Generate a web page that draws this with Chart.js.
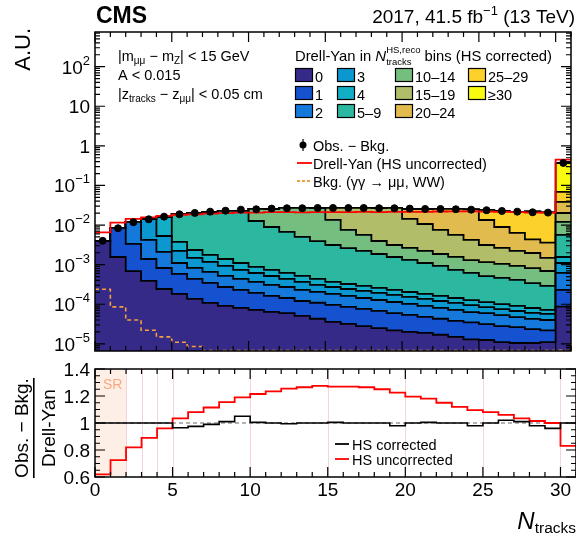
<!DOCTYPE html>
<html>
<head>
<meta charset="utf-8">
<script src="https://cdn.jsdelivr.net/npm/chart.js@4.4.0/dist/chart.umd.min.js"></script>
<style>
  html, body { margin: 0; padding: 0; background: #fff; }
  #wrap { position: relative; width: 576px; height: 537px; }
  #wrap canvas { position: absolute; left: 0; top: 0; }
</style>
</head>
<body>
<div id="wrap">
  <canvas id="main-chart" width="576" height="537"></canvas>
  <canvas id="ratio-chart" width="576" height="537"></canvas>
</div>
<script>
// DATA (bin i covers N_tracks in [i, i+1), last bin is the >=30 overflow)

const nTracksBins = [0, 1, 2, 3, 4, 5, 6, 7, 8, 9, 10, 11, 12, 13, 14, 15, 16, 17, 18, 19, 20, 21, 22, 23, 24, 25, 26, 27, 28, 29, 30];

// Drell-Yan split in N_tracks^HS,reco (HS corrected), arbitrary units
const dyHs0 = [3.96e-3, 1.56e-3, 6.9e-4, 3.9e-4, 2.43e-4, 1.82e-4, 1.36e-4, 1.08e-4, 9.1e-5, 8.1e-5, 7.2e-5, 6.4e-5, 6.0e-5, 5.1e-5, 4.3e-5, 3.6e-5, 3.2e-5, 2.8e-5, 2.5e-5, 2.2e-5, 2.0e-5, 1.9e-5, 1.7e-5, 1.5e-5, 1.3e-5, 1.25e-5, 1.1e-5, 1.05e-5, 1.05e-5, 1.1e-5, 8.7e-5];
const dyHs1 = [0, 6.9e-3, 2.64e-3, 1.0e-3, 5.8e-4, 4.0e-4, 3.0e-4, 2.37e-4, 1.82e-4, 1.49e-4, 1.21e-4, 9.8e-5, 8.4e-5, 7.0e-5, 6.6e-5, 6.0e-5, 5.4e-5, 4.8e-5, 4.3e-5, 3.8e-5, 3.4e-5, 2.9e-5, 2.6e-5, 2.3e-5, 2.2e-5, 1.9e-5, 1.7e-5, 1.6e-5, 1.3e-5, 1.1e-5, 1.43e-4];
const dyHs2 = [0, 0, 8.65e-3, 2.82e-3, 1.27e-3, 5.2e-4, 3.9e-4, 3.1e-4, 2.45e-4, 2.05e-4, 1.73e-4, 1.45e-4, 1.29e-4, 1.09e-4, 9.6e-5, 8.6e-5, 7.6e-5, 6.8e-5, 6.0e-5, 5.4e-5, 4.8e-5, 4.3e-5, 3.8e-5, 3.4e-5, 2.8e-5, 2.85e-5, 2.5e-5, 2.1e-5, 1.9e-5, 1.8e-5, 3.9e-4];
const dyHs3 = [0, 0, 0, 1.0e-2, 3.2e-3, 1.12e-3, 6.5e-4, 5.2e-4, 4.1e-4, 3.0e-4, 2.5e-4, 2.1e-4, 1.62e-4, 1.36e-4, 1.03e-4, 9.1e-5, 8.1e-5, 7.3e-5, 6.5e-5, 5.8e-5, 5.1e-5, 4.5e-5, 4.0e-5, 3.6e-5, 3.2e-5, 2.5e-5, 2.2e-5, 2.0e-5, 1.8e-5, 1.7e-5, 4.8e-4];
const dyHs4 = [0, 0, 0, 0, 1.07e-2, 1.52e-3, 8.7e-4, 5.9e-4, 4.6e-4, 3.65e-4, 2.6e-4, 2.2e-4, 1.82e-4, 1.52e-4, 1.28e-4, 9.3e-5, 8.2e-5, 7.3e-5, 6.5e-5, 5.8e-5, 5.1e-5, 4.6e-5, 4.1e-5, 3.6e-5, 3.2e-5, 2.85e-5, 2.6e-5, 2.3e-5, 2.0e-5, 1.5e-5, 4.6e-4];
const dyHs5to9 = [0, 0, 0, 0, 0, 1.53e-2, 1.79e-2, 1.96e-2, 2.13e-2, 2.16e-2, 1.18e-2, 8.2e-3, 6.1e-3, 4.5e-3, 3.5e-3, 2.77e-3, 2.3e-3, 1.93e-3, 1.6e-3, 1.33e-3, 1.11e-3, 9.2e-4, 7.65e-4, 5.9e-4, 4.9e-4, 4.0e-4, 3.6e-4, 3.2e-4, 2.6e-4, 2.2e-4, 4.06e-3];
const dyHs10to14 = [0, 0, 0, 0, 0, 0, 0, 0, 0, 0, 1.28e-2, 1.65e-2, 2.03e-2, 2.2e-2, 2.3e-2, 1.03e-2, 4.9e-3, 3.4e-3, 2.1e-3, 1.58e-3, 1.33e-3, 1.12e-3, 9.3e-4, 8.3e-4, 6.9e-4, 6.5e-4, 5.8e-4, 5.2e-4, 4.8e-4, 4.0e-4, 6.36e-3];
const dyHs15to19 = [0, 0, 0, 0, 0, 0, 0, 0, 0, 0, 0, 0, 0, 0, 0, 1.36e-2, 1.95e-2, 2.14e-2, 2.3e-2, 2.39e-2, 1.16e-2, 8.4e-3, 5.66e-3, 4.06e-3, 2.9e-3, 1.97e-3, 1.6e-3, 1.3e-3, 1.15e-3, 7.9e-4, 8.2e-3];
const dyHs20to24 = [0, 0, 0, 0, 0, 0, 0, 0, 0, 0, 0, 0, 0, 0, 0, 0, 0, 0, 0, 0, 1.12e-2, 1.48e-2, 1.8e-2, 1.99e-2, 2.08e-2, 1.03e-2, 6.3e-3, 4.1e-3, 2.4e-3, 2.1e-3, 1.81e-2];
const dyHs25to29 = [0, 0, 0, 0, 0, 0, 0, 0, 0, 0, 0, 0, 0, 0, 0, 0, 0, 0, 0, 0, 0, 0, 0, 0, 0, 1.06e-2, 1.37e-2, 1.51e-2, 1.77e-2, 1.72e-2, 3.06e-2];
const dyHs30plus = [0, 0, 0, 0, 0, 0, 0, 0, 0, 0, 0, 0, 0, 0, 0, 0, 0, 0, 0, 0, 0, 0, 0, 0, 0, 0, 0, 0, 0, 0, 0.30];

const obsMinusBkg = [0.0040, 0.0083, 0.0118, 0.0140, 0.0163, 0.0187, 0.0202, 0.0218, 0.0231, 0.0245, 0.0251, 0.0260, 0.0266, 0.0266, 0.0270, 0.0270, 0.0270, 0.0270, 0.0266, 0.0266, 0.0260, 0.0255, 0.0255, 0.0251, 0.0245, 0.0237, 0.0227, 0.0218, 0.0210, 0.0206, 0.37];
const dyUncorrected = [0.0065, 0.0115, 0.0144, 0.0157, 0.0170, 0.0182, 0.0187, 0.0195, 0.0201, 0.0206, 0.0207, 0.0211, 0.0213, 0.0210, 0.0212, 0.0213, 0.0213, 0.0214, 0.0213, 0.0216, 0.0216, 0.0216, 0.0220, 0.0222, 0.0222, 0.0219, 0.0214, 0.0211, 0.0207, 0.0206, 0.45];
const bkgGammaGammaWW = [2.4e-4, 8.6e-5, 4.0e-5, 2.2e-5, 1.5e-5, 1.1e-5, 8.6e-6, 6.8e-6, 6.8e-6, 6.8e-6, 6.8e-6, 6.8e-6, 6.8e-6, 6.8e-6, 6.8e-6, 6.8e-6, 6.8e-6, 6.8e-6, 6.8e-6, 6.8e-6, 6.8e-6, 6.8e-6, 6.8e-6, 6.8e-6, 6.8e-6, 6.8e-6, 6.8e-6, 6.8e-6, 6.8e-6, 6.8e-6, 6.9e-6];

// Ratio panel: (Obs. - Bkg.) / Drell-Yan
const ratioHsCorrected = [1, 1, 1, 1, 1, 0.965, 0.975, 0.99, 1.01, 1.05, 1.005, 1.0, 0.995, 1.0, 1.0, 1.005, 1.0, 1.0, 1.0, 0.98, 1.0, 1.005, 1.0, 1.0, 0.98, 1.0, 1.02, 1.01, 0.98, 0.96, 1.0];
const ratioHsUncorrected = [0.62, 0.725, 0.82, 0.89, 0.96, 1.035, 1.08, 1.115, 1.155, 1.19, 1.215, 1.235, 1.255, 1.265, 1.275, 1.27, 1.27, 1.265, 1.25, 1.225, 1.195, 1.18, 1.15, 1.12, 1.095, 1.08, 1.06, 1.035, 1.015, 1.0, 0.83];

const componentLabels = ['0', '1', '2', '3', '4', '5–9', '10–14', '15–19', '20–24', '25–29', '≥30'];
const logTickLabels = [[2, '10', '2'], [1, '10', ''], [0, '1', ''], [-1, '10', '−1'], [-2, '10', '−2'], [-3, '10', '−3'], [-4, '10', '−4'], [-5, '10', '−5']];
const ratioTickLabels = [0.6, 0.8, 1, 1.2, 1.4];
const xTickLabels = [0, 5, 10, 15, 20, 25, 30];
const srLines = [2, 3, 4, 5, 10, 15, 20, 25, 30];

// STYLE

const componentColors = ['#352a87', '#1552d0', '#1479da', '#0b97d0', '#12aec6', '#2cb8a0', '#74bf80', '#b1bd69', '#e2bb4e', '#fcd12b', '#f8fa0f'];
const FONT = '"Liberation Sans", Arial, Helvetica, sans-serif';

const components = [dyHs0, dyHs1, dyHs2, dyHs3, dyHs4, dyHs5to9, dyHs10to14, dyHs15to19, dyHs20to24, dyHs25to29, dyHs30plus];

// running sum so every layer sits on the one below
const stackTops = [];
components.forEach((comp, k) => {
  stackTops.push(comp.map((v, i) => (k === 0 ? v : stackTops[k - 1][i] + v)));
});

// histogram as a step line: one point per left bin edge, plus the closing right edge
const stepPoints = (vals) =>
  vals.map((v, i) => ({ x: nTracksBins[i], y: v })).concat([{ x: nTracksBins[vals.length - 1] + 1, y: vals[vals.length - 1] }]);

const centerPoints = (vals) => vals.map((v, i) => ({ x: nTracksBins[i] + 0.5, y: v }));

// TEXT HELPERS

const fontOf = (p) => `${p.it ? 'italic ' : ''}${p.b ? 'bold ' : ''}${p.s}px ${FONT}`;

// parts: {t, s, dy, it, b, lower, lowerDy}
function drawRich(ctx, x, y, parts, align = 'left') {
  const widths = parts.map((p) => {
    ctx.font = fontOf(p);
    let w = ctx.measureText(p.t).width;
    if (p.lower) w = Math.max(w, ctx.measureText(p.lower).width);
    return w;
  });
  const total = widths.reduce((a, b) => a + b, 0);
  let cx = align === 'right' ? x - total : align === 'center' ? x - total / 2 : x;
  ctx.textAlign = 'left';
  ctx.textBaseline = 'alphabetic';
  parts.forEach((p, i) => {
    ctx.font = fontOf(p);
    ctx.fillStyle = p.c || '#000';
    ctx.fillText(p.t, cx, y + (p.dy || 0));
    if (p.lower) ctx.fillText(p.lower, cx, y + (p.lowerDy || 0));
    cx += widths[i];
  });
}

function drawTicksX(ctx, area, scale, lenMajor, lenMinor) {
  for (let v = 0; v <= 31; v++) {
    const px = scale.getPixelForValue(v);
    const len = v % 5 === 0 ? lenMajor : lenMinor;
    ctx.beginPath();
    ctx.moveTo(px, area.bottom);
    ctx.lineTo(px, area.bottom - len);
    ctx.moveTo(px, area.top);
    ctx.lineTo(px, area.top + len);
    ctx.stroke();
  }
}

function drawTickY(ctx, area, py, len) {
  ctx.beginPath();
  ctx.moveTo(area.left, py);
  ctx.lineTo(area.left + len, py);
  ctx.moveTo(area.right, py);
  ctx.lineTo(area.right - len, py);
  ctx.stroke();
}

// MAIN PANEL DECORATION

const mainFrame = {
  id: 'mainFrame',
  afterDraw(chart) {
    const { ctx, chartArea: area } = chart;
    const xs = chart.scales.x;
    const ys = chart.scales.y;
    ctx.save();
    ctx.strokeStyle = '#000';
    ctx.lineWidth = 1.5;
    ctx.strokeRect(area.left, area.top, area.right - area.left, area.bottom - area.top);
    ctx.lineWidth = 1.2;
    drawTicksX(ctx, area, xs, 10, 5);
    for (let d = -6; d <= 3; d++) {
      for (let m = 1; m <= 9; m++) {
        const v = m * Math.pow(10, d);
        if (v < ys.min || v > ys.max) continue;
        drawTickY(ctx, area, ys.getPixelForValue(v), m === 1 ? 10 : 5);
      }
    }

    // y tick labels
    logTickLabels.forEach(([exp, base, sup]) => {
      const py = ys.getPixelForValue(Math.pow(10, exp)) + 7;
      const parts = [{ t: base, s: 19 }];
      if (sup) parts.push({ t: sup, s: 13, dy: -9 });
      drawRich(ctx, 90, py, parts, 'right');
    });

    // header
    drawRich(ctx, 96, 23, [{ t: 'CMS', s: 23, b: true }]);
    drawRich(ctx, 575, 23, [
      { t: '2017, 41.5 fb', s: 19 },
      { t: '−1', s: 13, dy: -8 },
      { t: ' (13 TeV)', s: 19 },
    ], 'right');

    // y title
    ctx.save();
    ctx.translate(30, 28);
    ctx.rotate(-Math.PI / 2);
    drawRich(ctx, 0, 0, [{ t: 'A.U.', s: 22 }], 'right');
    ctx.restore();

    // selection text
    drawRich(ctx, 118, 61, [
      { t: '|m', s: 14.5 }, { t: 'μμ', s: 10, dy: 3 }, { t: ' − m', s: 14.5 }, { t: 'Z', s: 10, dy: 3 }, { t: '| < 15 GeV', s: 14.5 },
    ]);
    drawRich(ctx, 118, 80, [{ t: 'A < 0.015', s: 14.5 }]);
    drawRich(ctx, 118, 99, [
      { t: '|z', s: 14.5 }, { t: 'tracks', s: 10, dy: 3 }, { t: ' − z', s: 14.5 }, { t: 'μμ', s: 10, dy: 3 }, { t: '| < 0.05 cm', s: 14.5 },
    ]);

    // stack legend
    drawRich(ctx, 295, 61, [
      { t: 'Drell-Yan in ', s: 14.8 },
      { t: 'N', s: 15, it: true },
      { t: 'HS,reco', s: 9.5, dy: -8, lower: 'tracks', lowerDy: 4 },
      { t: ' bins (HS corrected)', s: 14.8 },
    ]);
    const colX = [295, 337, 395, 468];
    const rowY = [68, 86, 104];
    componentLabels.forEach((label, k) => {
      const col = Math.floor(k / 3);
      const row = k % 3;
      const bx = colX[col];
      const by = rowY[row];
      ctx.fillStyle = componentColors[k];
      ctx.fillRect(bx, by, 18, 14);
      ctx.strokeStyle = '#000';
      ctx.lineWidth = 1.2;
      ctx.strokeRect(bx + 0.5, by + 0.5, 17, 13);
      drawRich(ctx, bx + 20, by + 13.5, [{ t: label, s: 14.5 }]);
    });

    // marker legend
    ctx.fillStyle = '#000';
    ctx.strokeStyle = '#000';
    ctx.lineWidth = 1.2;
    ctx.beginPath();
    ctx.moveTo(303, 139);
    ctx.lineTo(303, 151);
    ctx.stroke();
    ctx.beginPath();
    ctx.arc(303, 145, 3.5, 0, Math.PI * 2);
    ctx.fill();
    drawRich(ctx, 313, 151, [{ t: 'Obs. − Bkg.', s: 14.5 }]);

    ctx.strokeStyle = '#ff0000';
    ctx.lineWidth = 1.8;
    ctx.beginPath();
    ctx.moveTo(297, 163);
    ctx.lineTo(312, 163);
    ctx.stroke();
    drawRich(ctx, 313, 169, [{ t: 'Drell-Yan (HS uncorrected)', s: 14.5 }]);

    ctx.strokeStyle = '#f4a040';
    ctx.setLineDash([3, 2]);
    ctx.beginPath();
    ctx.moveTo(297, 181);
    ctx.lineTo(312, 181);
    ctx.stroke();
    ctx.setLineDash([]);
    drawRich(ctx, 313, 187, [{ t: 'Bkg. (γγ → μμ, WW)', s: 14.5 }]);
    ctx.restore();
  },
};

// MAIN STACKED PLOT

const layerDatasets = stackTops.map((tops, k) => ({
  label: componentLabels[k],
  data: stepPoints(tops),
  stepped: 'before',
  borderColor: '#000',
  borderWidth: 1.8,
  backgroundColor: componentColors[k],
  fill: k === 0 ? 'start' : '-1',
  pointRadius: 0,
  order: 2,
}));

new Chart(document.getElementById('main-chart'), {
  type: 'line',
  data: {
    datasets: [
      ...layerDatasets,
      {
        label: 'Drell-Yan (HS uncorrected)',
        data: stepPoints(dyUncorrected),
        stepped: 'before',
        borderColor: '#ff0000',
        borderWidth: 1.8,
        fill: false,
        pointRadius: 0,
        order: 1,
      },
      {
        label: 'Bkg.',
        data: stepPoints(bkgGammaGammaWW),
        stepped: 'before',
        borderColor: '#f4a040',
        borderWidth: 1.6,
        borderDash: [4, 3],
        fill: false,
        pointRadius: 0,
        order: 1,
      },
      {
        label: 'Obs. - Bkg.',
        data: centerPoints(obsMinusBkg),
        showLine: false,
        pointRadius: 3.5,
        pointBackgroundColor: '#000',
        pointBorderColor: '#000',
        order: 0,
      },
    ],
  },
  options: {
    responsive: false,
    animation: false,
    layout: { padding: { left: 95, right: 0, top: 32, bottom: 186 } },
    plugins: { legend: { display: false }, tooltip: { enabled: false } },
    scales: {
      x: { type: 'linear', min: 0, max: 31, display: false },
      y: { type: 'logarithmic', min: 6.6e-6, max: 750, display: false },
    },
  },
  plugins: [mainFrame],
});

// RATIO PANEL DECORATION

const ratioFrame = {
  id: 'ratioFrame',
  beforeDatasetsDraw(chart) {
    const { ctx, chartArea: area } = chart;
    const xs = chart.scales.x;
    ctx.save();
    ctx.fillStyle = '#fdefe5';
    const x0 = xs.getPixelForValue(0);
    const x2 = xs.getPixelForValue(2);
    ctx.fillRect(x0, area.top, x2 - x0, area.bottom - area.top);
    ctx.strokeStyle = '#f7d3de';
    ctx.lineWidth = 1;
    srLines.forEach((v) => {
      const px = Math.round(xs.getPixelForValue(v)) + 0.5;
      ctx.beginPath();
      ctx.moveTo(px, area.top);
      ctx.lineTo(px, area.bottom);
      ctx.stroke();
    });
    drawRich(ctx, 103, 389, [{ t: 'SR', s: 14, c: '#f8a983' }]);
    ctx.restore();
  },
  afterDraw(chart) {
    const { ctx, chartArea: area } = chart;
    const xs = chart.scales.x;
    const ys = chart.scales.y;
    ctx.save();
    ctx.strokeStyle = '#000';
    ctx.lineWidth = 1.5;
    ctx.strokeRect(area.left, area.top, area.right - area.left, area.bottom - area.top);
    ctx.lineWidth = 1.2;
    drawTicksX(ctx, area, xs, 10, 5);
    for (let i = 0; i <= 16; i++) {
      const v = 0.6 + i * 0.05;
      drawTickY(ctx, area, ys.getPixelForValue(v), i % 4 === 0 ? 10 : 5);
    }
    ratioTickLabels.forEach((v) => {
      drawRich(ctx, 90, ys.getPixelForValue(v) + 7, [{ t: String(v), s: 19 }], 'right');
    });
    xTickLabels.forEach((v) => {
      drawRich(ctx, xs.getPixelForValue(v), 496, [{ t: String(v), s: 19 }], 'center');
    });

    // x title
    drawRich(ctx, 576, 529, [
      { t: 'N', s: 24, it: true },
      { t: 'tracks', s: 15.5, dy: 4 },
    ], 'right');

    // y title as a fraction
    ctx.save();
    ctx.translate(28, 428);
    ctx.rotate(-Math.PI / 2);
    drawRich(ctx, 0, 0, [{ t: 'Obs. − Bkg.', s: 19 }], 'center');
    ctx.fillStyle = '#000';
    ctx.fillRect(-50, 5, 100, 1.6);
    drawRich(ctx, 0, 27, [{ t: 'Drell-Yan', s: 19 }], 'center');
    ctx.restore();

    // legend
    ctx.lineWidth = 1.8;
    ctx.strokeStyle = '#000';
    ctx.beginPath();
    ctx.moveTo(335, 444);
    ctx.lineTo(349, 444);
    ctx.stroke();
    drawRich(ctx, 352, 450, [{ t: 'HS corrected', s: 14.5 }]);
    ctx.strokeStyle = '#ff0000';
    ctx.beginPath();
    ctx.moveTo(335, 459);
    ctx.lineTo(349, 459);
    ctx.stroke();
    drawRich(ctx, 352, 465, [{ t: 'HS uncorrected', s: 14.5 }]);
    ctx.restore();
  },
};

// RATIO PLOT

new Chart(document.getElementById('ratio-chart'), {
  type: 'line',
  data: {
    datasets: [
      {
        label: 'unity',
        data: [{ x: 0, y: 1 }, { x: 31, y: 1 }],
        borderColor: '#9a9a9a',
        borderWidth: 1.5,
        borderDash: [4, 3],
        pointRadius: 0,
        order: 2,
      },
      {
        label: 'HS uncorrected',
        data: stepPoints(ratioHsUncorrected),
        stepped: 'before',
        borderColor: '#ff0000',
        borderWidth: 1.8,
        pointRadius: 0,
        order: 1,
      },
      {
        label: 'HS corrected',
        data: stepPoints(ratioHsCorrected),
        stepped: 'before',
        borderColor: '#000',
        borderWidth: 1.6,
        pointRadius: 0,
        order: 0,
      },
    ],
  },
  options: {
    responsive: false,
    animation: false,
    layout: { padding: { left: 95, right: 0, top: 369, bottom: 60 } },
    plugins: { legend: { display: false }, tooltip: { enabled: false } },
    scales: {
      x: { type: 'linear', min: 0, max: 31, display: false },
      y: { type: 'linear', min: 0.6, max: 1.4, display: false },
    },
  },
  plugins: [ratioFrame],
});
</script>
</body>
</html>
